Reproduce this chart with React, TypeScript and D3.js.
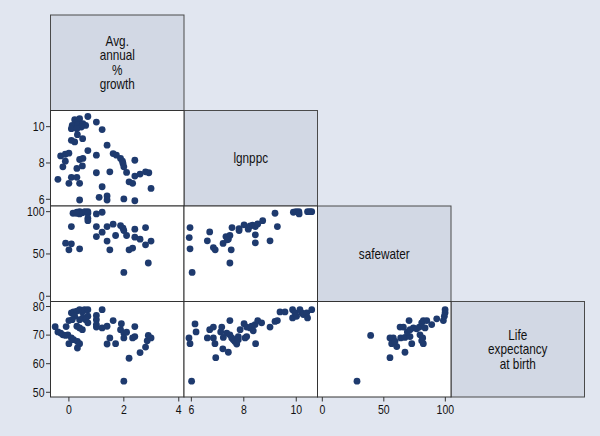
import React from "react";
import * as d3 from "d3";

// ---- Variables (diagonal labels) ----
const varLabels: string[][] = [
  ["Avg.", "annual", "%", "growth"],
  ["lgnppc"],
  ["safewater"],
  ["Life", "expectancy", "at birth"],
];

// ---- Tick labels ----
const growthTicks = [0, 2, 4];
const lgnppcTicks = [6, 8, 10];
const safewaterTicks = [0, 50, 100];
const lexpTicks = [50, 60, 70, 80];

// ---- Data: [x, y] per panel ----
// row 2, col 1: lgnppc (y) vs growth (x)
const lgnppcVsGrowth: [number, number][] = [
  [0.69, 10.56], [1.0, 10.25], [0.21, 10.38], [0.39, 10.44], [0.25, 10.2], [0.12, 10.07],
  [0.33, 10.13], [0.51, 10.16], [0.61, 10.07], [0.45, 9.98], [0.09, 9.89], [0.29, 9.89],
  [1.21, 9.84], [0.31, 9.56], [0.5, 9.34], [0.09, 9.25], [0.21, 9.16], [1.39, 8.98],
  [0.69, 8.68], [-0.3, 8.39], [-0.13, 8.48], [0.0, 8.54], [1.0, 8.43], [1.61, 8.52],
  [1.73, 8.43], [1.88, 8.25], [1.95, 8.1], [1.97, 7.97], [2.0, 7.79], [2.4, 8.15],
  [0.39, 8.19], [0.51, 8.25], [-0.13, 8.1], [-0.22, 7.79], [0.49, 7.84], [0.29, 7.7],
  [1.0, 7.46], [1.49, 7.51], [2.1, 7.48], [-0.4, 7.1], [0.09, 7.21], [0.29, 7.21],
  [0.0, 6.88], [0.39, 6.88], [2.19, 6.96], [2.32, 6.88], [2.4, 7.28], [2.59, 7.39],
  [2.79, 7.51], [2.91, 7.46], [1.21, 6.69], [2.99, 6.6], [1.1, 6.11], [1.39, 6.18],
  [1.39, 5.96], [0.39, 5.96], [2.0, 6.02], [2.4, 5.92],
];

// row 3, col 1: safewater (y) vs growth (x)
const safewaterVsGrowth: [number, number][] = [
  [0.15, 98.1], [0.29, 99.3], [0.39, 100], [0.49, 98.8], [0.58, 100], [0.69, 100],
  [0.69, 98.1], [0.69, 92.2], [0.69, 89.4], [0.39, 97.3], [0.27, 98.1], [1.0, 97.3],
  [1.21, 99.3], [0.09, 82.4], [-0.12, 62.8], [0.09, 62.0], [0.0, 54.9], [0.39, 56.1],
  [1.0, 82.4], [1.0, 70.6], [1.21, 75.8], [1.39, 82.4], [1.39, 65.2], [1.61, 85.2],
  [1.7, 71.8], [1.49, 54.9], [1.88, 83.5], [1.97, 80.4], [2.0, 77.6], [2.1, 71.8],
  [2.4, 79.3], [2.4, 69.9], [2.59, 67.5], [2.79, 81.2], [2.79, 60.8], [2.99, 65.2],
  [2.19, 54.9], [2.32, 56.9], [2.89, 39.3], [2.0, 28.2],
];

// row 3, col 2: safewater (y) vs lgnppc (x)
const safewaterVsLgnppc: [number, number][] = [
  [5.95, 81.2], [5.92, 69.4], [5.95, 56.1], [6.03, 28.2], [6.7, 76.1], [6.61, 65.5],
  [6.84, 57.6], [6.91, 54.9], [7.21, 62.4], [7.32, 70.6], [7.41, 67.5], [7.47, 71.8],
  [7.37, 66.7], [7.52, 54.9], [7.47, 39.3], [7.55, 81.2], [7.82, 80.0], [7.82, 77.6],
  [8.01, 84.4], [8.17, 79.3], [8.24, 83.2], [8.34, 84.0], [8.44, 82.4], [8.53, 85.5],
  [8.44, 72.6], [8.44, 63.2], [8.72, 89.4], [9.0, 65.5], [9.19, 98.1], [9.28, 82.4],
  [9.89, 99.3], [9.99, 100], [10.1, 100], [10.11, 97.3], [10.43, 100], [10.59, 100],
  [10.52, 100],
];

// row 4, col 1: life expectancy (y) vs growth (x)
const lexpVsGrowth: [number, number][] = [
  [-0.5, 72.96], [-0.4, 71.1], [-0.3, 70.7], [-0.22, 70.1], [-0.12, 69.9], [-0.04, 70.1],
  [-0.1, 73.0], [0.0, 67.0], [0.09, 69.0], [0.17, 68.4], [0.31, 67.8], [0.39, 67.0],
  [0.31, 65.5], [0.0, 75.1], [0.09, 77.8], [0.17, 78.1], [0.29, 78.4], [0.39, 78.9],
  [0.49, 78.1], [0.57, 78.9], [0.69, 78.9], [0.69, 76.6], [0.51, 76.0], [0.61, 75.4],
  [0.39, 75.4], [0.29, 73.1], [0.49, 71.9], [0.69, 74.3], [0.39, 72.5], [0.21, 76.6],
  [0.12, 75.4], [1.0, 76.9], [1.0, 75.4], [1.0, 73.7], [1.0, 72.8], [1.21, 78.9],
  [1.21, 72.5], [1.39, 73.1], [1.39, 66.9], [1.49, 69.0], [1.61, 75.1], [1.7, 67.0],
  [1.91, 74.0], [1.88, 71.9], [2.0, 70.7], [2.0, 69.0], [2.1, 71.0], [2.19, 61.9],
  [2.0, 53.9], [2.4, 73.0], [2.4, 69.5], [2.32, 69.0], [2.59, 63.9], [2.79, 65.8],
  [2.85, 68.0], [2.89, 69.9], [2.99, 69.0],
];

// row 4, col 2: life expectancy (y) vs lgnppc (x)
const lexpVsLgnppc: [number, number][] = [
  [5.91, 69.0], [5.95, 67.0], [6.14, 73.9], [6.18, 71.1], [6.01, 53.9], [6.61, 69.0],
  [6.7, 71.9], [6.84, 72.8], [6.84, 69.0], [6.9, 67.0], [6.93, 62.1], [7.16, 72.8],
  [7.12, 71.1], [7.22, 69.2], [7.2, 65.2], [7.41, 64.0], [7.47, 75.1], [7.35, 70.7],
  [7.47, 70.1], [7.54, 69.0], [7.6, 68.4], [7.66, 67.8], [7.73, 66.9], [7.79, 69.5],
  [7.86, 71.9], [7.79, 68.4], [8.01, 74.0], [8.11, 72.8], [8.24, 72.5], [8.3, 73.1],
  [8.36, 71.5], [8.43, 73.7], [8.53, 75.1], [8.68, 74.3], [8.11, 69.5], [8.05, 69.0],
  [8.45, 67.0], [9.0, 72.8], [9.19, 74.8], [9.28, 75.1], [9.38, 78.1], [9.57, 78.1],
  [9.86, 78.9], [9.95, 77.8], [10.14, 78.9], [10.21, 77.8], [10.27, 77.2], [10.4, 77.8],
  [10.43, 76.0], [10.59, 78.9], [9.86, 76.0], [10.01, 76.6],
];

// row 4, col 3: life expectancy (y) vs safewater (x)
const lexpVsSafewater: [number, number][] = [
  [28.2, 53.9], [39.3, 69.9], [55.0, 62.1], [55.0, 69.0], [56.4, 67.0], [57.7, 69.0],
  [60.5, 66.0], [59.1, 67.8], [63.2, 72.8], [65.9, 72.8], [63.7, 69.0], [67.2, 69.2],
  [71.3, 69.5], [72.7, 67.0], [67.2, 64.0], [70.5, 75.1], [69.1, 71.1], [71.3, 71.9],
  [74.0, 72.5], [76.7, 72.2], [78.9, 72.8], [80.8, 74.3], [82.1, 75.1], [84.9, 75.1],
  [83.5, 72.5], [79.4, 70.1], [81.6, 69.0], [82.1, 67.0], [80.8, 68.0], [88.9, 73.7],
  [93.0, 75.7], [98.4, 75.1], [99.2, 76.6], [99.8, 77.8], [99.8, 78.9],
];

const W = 600;
const H = 436;
const BG = "#E1E6F0";
const DIAG = "#D2D8E4";
const MARK = "#1E3A6E";
const FONT = "'Liberation Sans', Arial, Helvetica, sans-serif";
const SQUEEZE = 0.84;

const left = 50.5;
const top = 15;
const colW = 133.5;
const rowH = 95.5;

// domains for each variable (index 0..3)
const xDomains: [number, number][] = [
  [-0.67, 4.19],
  [5.72, 10.81],
  [-3.9, 104.6],
  [0, 1],
];
const yDomains: [number, number][] = [
  [0, 1],
  [5.63, 10.89],
  [-6.2, 106.7],
  [48.35, 81.76],
];

const panels: { row: number; col: number; data: [number, number][] }[] = [
  { row: 1, col: 0, data: lgnppcVsGrowth },
  { row: 2, col: 0, data: safewaterVsGrowth },
  { row: 2, col: 1, data: safewaterVsLgnppc },
  { row: 3, col: 0, data: lexpVsGrowth },
  { row: 3, col: 1, data: lexpVsLgnppc },
  { row: 3, col: 2, data: lexpVsSafewater },
];

const xTicksByCol = [growthTicks, lgnppcTicks, safewaterTicks];
const yTicksByRow = [[], lgnppcTicks, safewaterTicks, lexpTicks];

function xScale(col: number) {
  const x0 = left + col * colW;
  return d3.scaleLinear().domain(xDomains[col]).range([x0, x0 + colW]);
}
function yScale(row: number) {
  const y0 = top + row * rowH;
  return d3.scaleLinear().domain(yDomains[row]).range([y0 + rowH, y0]);
}

function NText(props: { x: number; y: number; anchor: string; size: number; children: React.ReactNode }) {
  return (
    <text
      transform={`translate(${props.x},${props.y}) scale(${SQUEEZE},1)`}
      x={0}
      y={0}
      textAnchor={props.anchor}
      dominantBaseline="central"
      fontSize={props.size}
      fill="#111"
    >
      {props.children}
    </text>
  );
}

export default function App() {
  const bottom = top + 4 * rowH;
  return (
    <svg
      width={W}
      height={H}
      style={{ position: "absolute", left: 0, top: 0, display: "block" }}
      fontFamily={FONT}
    >
      <rect x={0} y={0} width={W} height={H} fill={BG} />
      {/* diagonal cells */}
      {varLabels.map((lines, i) => {
        const x0 = left + i * colW;
        const y0 = top + i * rowH;
        const cx = x0 + colW / 2;
        const cy = y0 + rowH / 2;
        const lh = 14.5;
        const startY = cy - ((lines.length - 1) * lh) / 2;
        return (
          <g key={"d" + i}>
            <rect x={x0} y={y0} width={colW} height={rowH} fill={DIAG} stroke="#4a4a4a" strokeWidth={1} />
            {lines.map((t, j) => (
              <NText key={j} x={cx} y={startY + j * lh} anchor="middle" size={14}>
                {t}
              </NText>
            ))}
          </g>
        );
      })}
      {/* scatter panels */}
      {panels.map((p, k) => {
        const xs = xScale(p.col);
        const ys = yScale(p.row);
        const x0 = left + p.col * colW;
        const y0 = top + p.row * rowH;
        return (
          <g key={"p" + k}>
            <rect x={x0} y={y0} width={colW} height={rowH} fill="#fff" />
            {p.data.map((d, i) => (
              <circle key={i} cx={xs(d[0])} cy={ys(d[1])} r={3.4} fill={MARK} />
            ))}
            <rect x={x0} y={y0} width={colW} height={rowH} fill="none" stroke="#333" strokeWidth={1} />
          </g>
        );
      })}
      {/* y axes */}
      {yTicksByRow.map((ticks, row) => {
        if (!ticks.length) return null;
        const ys = yScale(row);
        return (
          <g key={"ya" + row}>
            {ticks.map((t) => (
              <g key={t}>
                <line x1={left - 4.5} x2={left} y1={ys(t)} y2={ys(t)} stroke="#333" strokeWidth={1} />
                <NText x={left - 6} y={ys(t)} anchor="end" size={12.5}>
                  {t}
                </NText>
              </g>
            ))}
          </g>
        );
      })}
      {/* x axes */}
      {xTicksByCol.map((ticks, col) => {
        const xs = xScale(col);
        return (
          <g key={"xa" + col}>
            {ticks.map((t) => (
              <g key={t}>
                <line x1={xs(t)} x2={xs(t)} y1={bottom} y2={bottom + 4.5} stroke="#333" strokeWidth={1} />
                <NText x={xs(t)} y={bottom + 13} anchor="middle" size={12.5}>
                  {t}
                </NText>
              </g>
            ))}
          </g>
        );
      })}
    </svg>
  );
}
